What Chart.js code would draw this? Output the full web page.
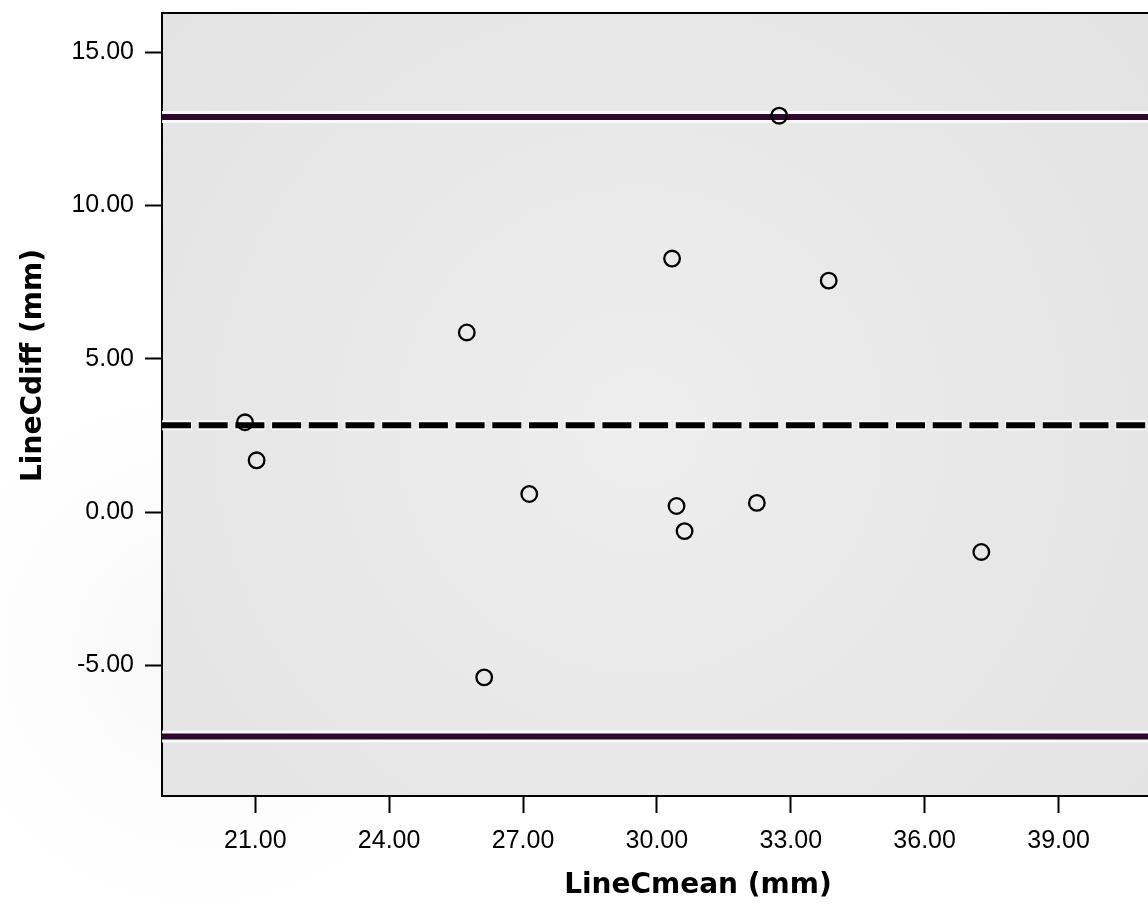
<!DOCTYPE html>
<html>
<head>
<meta charset="utf-8">
<script src="https://cdn.jsdelivr.net/npm/chart.js@4/dist/chart.umd.min.js"></script>
<style>
  html, body { margin: 0; padding: 0; background: #fff; overflow: hidden; }
  #wrap { width: 1148px; height: 915px; overflow: hidden; }
</style>
</head>
<body>
<div id="wrap"><canvas id="chart" width="1244" height="915"></canvas></div>
<script>
// mean of the two measurements (mm)
const lineCmean = [20.77, 21.03, 25.74, 26.13, 27.14, 30.34, 30.44, 30.62, 32.24, 32.74, 33.85, 37.27];
// difference of the two measurements (mm)
const lineCdiff = [2.93, 1.69, 5.86, -5.39, 0.59, 8.27, 0.20, -0.62, 0.30, 12.93, 7.55, -1.30];

// reference lines: upper limit, mean difference, lower limit
const upperLimit = 12.89;
const meanDiff = 2.83;
const lowerLimit = -7.32;

// axis ranges and tick steps
const xRange = [18.91, 42.93];
const yRange = [-9.26, 16.28];
const xStep = 3;
const yStep = 5;

function hLine(v) {
    return [{ x: xRange[0], y: v }, { x: xRange[1], y: v }];
}

// background for plot area + top frame line
const frame = {
    id: 'frame',
    beforeDraw(chart) {
        const { ctx, chartArea: a } = chart;
        ctx.save();
        ctx.fillStyle = '#fff';
        ctx.fillRect(0, 0, chart.width, chart.height);
        const halo = ctx.createRadialGradient(200, 650, 20, 200, 650, 330);
        halo.addColorStop(0, '#f7f7f7');
        halo.addColorStop(1, 'rgba(255,255,255,0)');
        ctx.fillStyle = halo;
        ctx.fillRect(0, 0, chart.width, chart.height);
        const g = ctx.createRadialGradient(640, 430, 30, 640, 430, 760);
        g.addColorStop(0, '#ededed');
        g.addColorStop(1, '#e1e1e1');
        ctx.fillStyle = g;
        ctx.fillRect(a.left, a.top, a.right - a.left, a.bottom - a.top);
        ctx.restore();
    },
    afterDraw(chart) {
        const { ctx, chartArea: a } = chart;
        ctx.save();
        ctx.strokeStyle = '#000';
        ctx.lineWidth = 2;
        ctx.beginPath();
        ctx.moveTo(a.left, a.top);
        ctx.lineTo(a.right, a.top);
        ctx.lineTo(a.right, a.bottom);
        ctx.stroke();
        ctx.restore();
    }
};

const limitColor = '#2d0a2d';
const haloColor = 'rgba(250,250,250,0.9)';

new Chart(document.getElementById('chart'), {
    type: 'scatter',
    data: {
        datasets: [
            {
                data: lineCmean.map((x, i) => ({ x: x, y: lineCdiff[i] })),
                pointRadius: 7.8,
                pointHoverRadius: 7.8,
                pointBorderWidth: 2.3,
                pointBorderColor: '#000',
                pointBackgroundColor: 'rgba(0,0,0,0)',
                showLine: false,
                order: 0
            },
            { type: 'line', data: hLine(upperLimit), borderColor: limitColor, borderWidth: 6, pointRadius: 0, order: 1 },
            { type: 'line', data: hLine(lowerLimit), borderColor: limitColor, borderWidth: 6, pointRadius: 0, order: 1 },
            { type: 'line', data: hLine(meanDiff), borderColor: '#000', borderWidth: 6, borderDash: [29, 7.7], pointRadius: 0, order: 1 },
            { type: 'line', data: hLine(upperLimit), borderColor: haloColor, borderWidth: 12, pointRadius: 0, order: 2 },
            { type: 'line', data: hLine(lowerLimit), borderColor: haloColor, borderWidth: 12, pointRadius: 0, order: 2 },
            { type: 'line', data: hLine(meanDiff), borderColor: haloColor, borderWidth: 10, borderDash: [31, 5.7], borderDashOffset: 1, pointRadius: 0, order: 2 }
        ]
    },
    options: {
        responsive: false,
        animation: false,
        events: [],
        layout: { padding: { top: 13, left: 0, right: 0, bottom: 0 } },
        plugins: {
            legend: { display: false },
            tooltip: { enabled: false }
        },
        scales: {
            x: {
                type: 'linear',
                min: xRange[0],
                max: xRange[1],
                afterFit(s) { s.height = 119; s.paddingLeft = 0; s.paddingRight = 0; },
                border: { display: true, color: '#000', width: 2 },
                grid: { drawOnChartArea: false, drawTicks: true, tickLength: 17, tickColor: '#000', tickWidth: 2 },
                ticks: {
                    stepSize: xStep,
                    includeBounds: false,
                    autoSkip: false,
                    maxRotation: 0,
                    padding: 13,
                    color: '#000',
                    font: { family: 'Liberation Sans', size: 25 },
                    callback: v => v.toFixed(2)
                },
                title: {
                    display: true,
                    text: 'LineCmean (mm)',
                    color: '#000',
                    font: { family: 'DejaVu Sans', size: 28, weight: 'bold' },
                    padding: { top: 0, bottom: 12 }
                }
            },
            y: {
                type: 'linear',
                min: yRange[0],
                max: yRange[1],
                afterFit(s) { s.width = 162; s.paddingTop = 0; s.paddingBottom = 0; },
                border: { display: true, color: '#000', width: 2 },
                grid: { drawOnChartArea: false, drawTicks: true, tickLength: 17, tickColor: '#000', tickWidth: 2 },
                ticks: {
                    stepSize: yStep,
                    includeBounds: false,
                    autoSkip: false,
                    padding: 11,
                    color: '#000',
                    font: { family: 'Liberation Sans', size: 25 },
                    callback: v => v.toFixed(2)
                },
                title: {
                    display: true,
                    text: '        LineCdiff (mm)',
                    color: '#000',
                    font: { family: 'DejaVu Sans', size: 28, weight: 'bold' },
                    padding: { top: 17, bottom: 0 }
                }
            }
        }
    },
    plugins: [frame]
});
</script>
</body>
</html>
